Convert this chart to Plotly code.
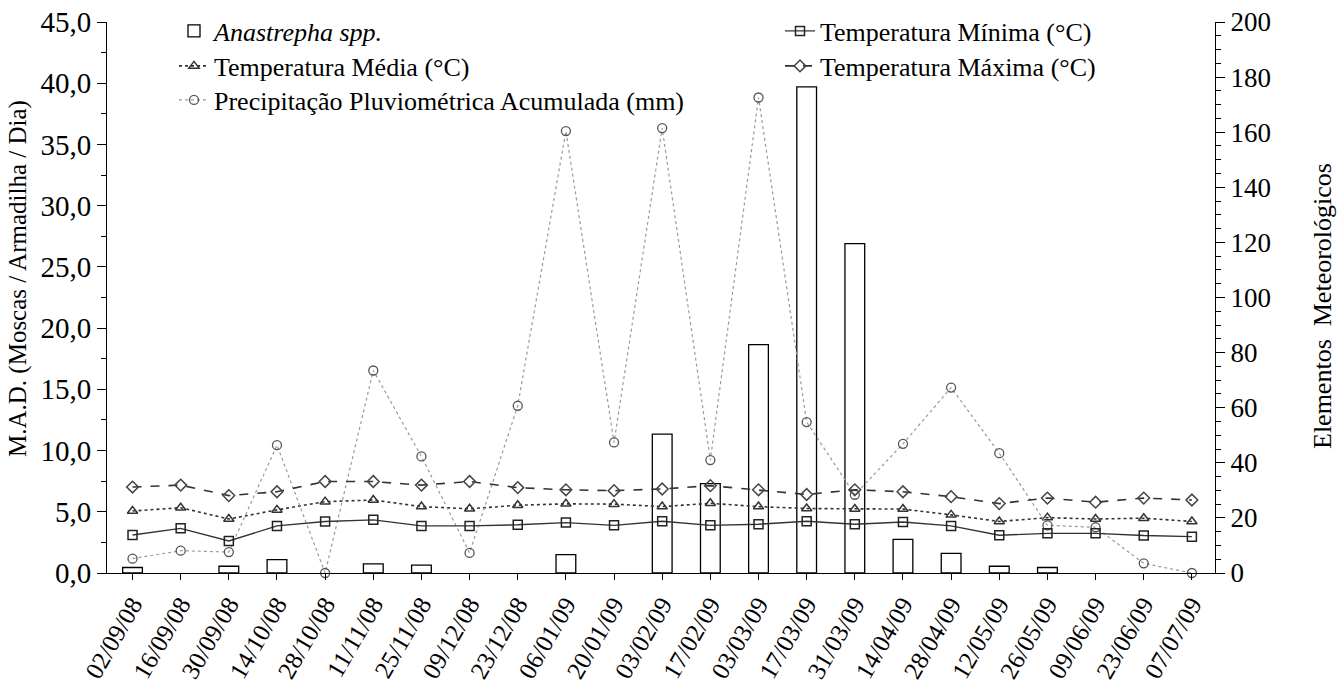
import plotly.graph_objects as go

dates = ["02/09/08", "16/09/08", "30/09/08", "14/10/08", "28/10/08", "11/11/08", "25/11/08",
         "09/12/08", "23/12/08", "06/01/09", "20/01/09", "03/02/09", "17/02/09", "03/03/09",
         "17/03/09", "31/03/09", "14/04/09", "28/04/09", "12/05/09", "26/05/09", "09/06/09",
         "23/06/09", "07/07/09"]

mad = [0.45, 0, 0.55, 1.1, 0, 0.75, 0.65, 0, 0, 1.5, 0, 11.35, 7.3, 18.65, 39.7, 26.9,
       2.75, 1.6, 0.55, 0.45, 0, 0, 0]

t_min = [13.8, 16.2, 11.6, 17.1, 18.7, 19.3, 17.1, 17.1, 17.5, 18.3, 17.3, 18.8, 17.3, 17.7,
         18.8, 17.7, 18.5, 17.1, 13.7, 14.4, 14.4, 13.6, 13.2]

t_med = [22.5, 23.7, 19.6, 22.9, 25.9, 26.5, 24.1, 23.3, 24.6, 25.1, 25.0, 24.1, 25.3, 24.1,
         23.4, 23.2, 23.2, 21.1, 18.7, 20.1, 19.6, 19.9, 18.7]

t_max = [31.2, 31.9, 28.1, 29.5, 33.2, 33.2, 31.9, 33.2, 31.0, 30.2, 29.9, 30.5, 31.7, 30.2,
         28.5, 30.2, 29.5, 27.7, 25.2, 27.2, 25.7, 27.2, 26.5]

precip = [5.2, 8.1, 7.6, 46.4, 0, 73.5, 42.3, 7.3, 60.7, 160.4, 47.4, 161.5, 41.0, 172.6,
          54.8, 28.4, 46.9, 67.3, 43.5, 17.3, 16.6, 3.5, 0]

left_ticks = [0, 5, 10, 15, 20, 25, 30, 35, 40, 45]
right_ticks = [0, 20, 40, 60, 80, 100, 120, 140, 160, 180, 200]

FONT = "Liberation Serif, Times New Roman, serif"
DARK = "#333333"
W, H = 1339, 682
ML, MR, MT, MB = 107, 124, 22, 109
PW, PH = W - ML - MR, H - MT - MB

# weeks without catches have no bar
mad_bars = [v if v > 0 else None for v in mad]

fig = go.Figure()

fig.add_trace(go.Bar(x=dates, y=mad_bars, name="<i>Anastrepha spp.</i>", yaxis="y",
                     marker=dict(color="white", line=dict(color="black", width=1.3)),
                     width=0.41, legend="legend"))

fig.add_trace(go.Scatter(x=dates, y=t_med, name="Temperatura Média (°C)", mode="lines+markers",
                         yaxis="y2",
                         line=dict(color=DARK, width=1.6, dash="dot"),
                         marker=dict(symbol="triangle-up-open", size=9, color=DARK, line=dict(width=1.5)),
                         legend="legend2", cliponaxis=False))

fig.add_trace(go.Scatter(x=dates, y=precip, name="Precipitação Pluviométrica Acumulada (mm)",
                         mode="lines+markers", yaxis="y2",
                         line=dict(color="#9a9a9a", width=1.2, dash="dot"),
                         marker=dict(symbol="circle-open", size=9, color="#555555", line=dict(width=1.3)),
                         legend="legend3", cliponaxis=False))

fig.add_trace(go.Scatter(x=dates, y=t_min, name="Temperatura Mínima (°C)", mode="lines+markers",
                         yaxis="y2",
                         line=dict(color=DARK, width=1.4),
                         marker=dict(symbol="square-open", size=9, color="#222222", line=dict(width=1.5)),
                         legend="legend4", cliponaxis=False))

fig.add_trace(go.Scatter(x=dates, y=t_max, name="Temperatura Máxima (°C)", mode="lines+markers",
                         yaxis="y2",
                         line=dict(color=DARK, width=1.6, dash="dash"),
                         marker=dict(symbol="diamond-open", size=9, color="#444444", line=dict(width=1.5)),
                         legend="legend5", cliponaxis=False))


def leg(xpix, ypix):
    return dict(x=xpix / W, y=1 - ypix / H, xref="container", yref="container",
                xanchor="left", yanchor="middle", bgcolor="rgba(0,0,0,0)",
                font=dict(family=FONT, size=26), itemwidth=30, tracegroupgap=0)


def px(xp):
    return (xp - ML) / PW


def py(yp):
    return (H - MB - yp) / PH


fig.update_layout(
    width=W, height=H,
    margin=dict(l=ML, r=MR, t=MT, b=MB, autoexpand=False),
    paper_bgcolor="white", plot_bgcolor="white",
    font=dict(family=FONT, size=22, color="black"),
    separators=",.",
    showlegend=True,
    legend=leg(174, 31),
    legend2=leg(174, 66),
    legend3=leg(174, 100),
    legend4=leg(780, 31),
    legend5=leg(780, 66),
    xaxis=dict(type="category", domain=[0, 1], range=[-0.53, 22.48], showline=True, linecolor="black",
               linewidth=1, ticks="outside", ticklen=6, tickcolor="black", tickangle=-60,
               tickfont=dict(family=FONT, size=25), showgrid=False, zeroline=False, automargin=False),
    yaxis=dict(range=[0, 45], tickvals=left_ticks, tickformat=".1f", showline=True, linecolor="black",
               linewidth=1, ticks="outside", ticklen=9, tickcolor="black", showgrid=False, zeroline=False,
               minor=dict(dtick=2.5, ticks="outside", ticklen=5, tickcolor="black"),
               tickfont=dict(family=FONT, size=29), automargin=False),
    yaxis2=dict(range=[0, 200], tickvals=right_ticks, overlaying="y", side="right", anchor="x",
                showline=True, linecolor="black",
                linewidth=1, ticks="outside", ticklen=9, tickcolor="black", showgrid=False, zeroline=False,
                minor=dict(dtick=5, ticks="outside", ticklen=5, tickcolor="black"),
                tickfont=dict(family=FONT, size=27), automargin=False),
    annotations=[
        dict(text="M.A.D. (Moscas / Armadilha / Dia)", xref="paper", yref="paper",
             x=px(18), y=py(279), textangle=-90, showarrow=False,
             font=dict(family=FONT, size=25), xanchor="center", yanchor="middle"),
        dict(text="Elementos  Meteorológicos", xref="paper", yref="paper",
             x=px(1322), y=py(306), textangle=-90, showarrow=False,
             font=dict(family=FONT, size=26), xanchor="center", yanchor="middle"),
    ],
)

fig.write_html("out.html", config={"displayModeBar": False},
               post_script="document.body.style.margin='0px';")
